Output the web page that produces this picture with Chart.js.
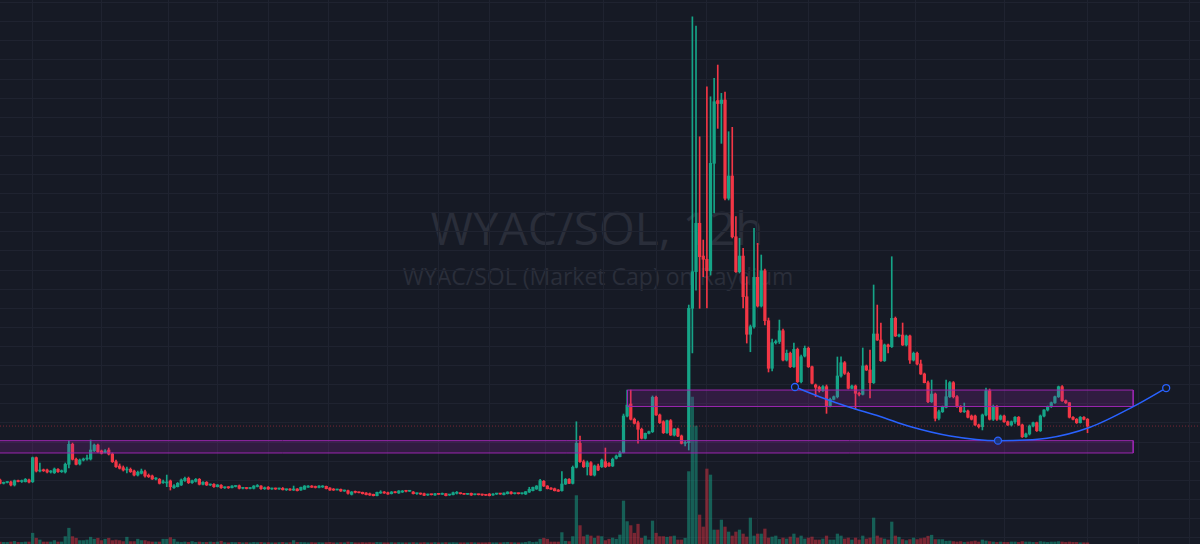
<!DOCTYPE html>
<html><head><meta charset="utf-8">
<script src="https://cdn.jsdelivr.net/npm/chart.js@4.4.1/dist/chart.umd.min.js"></script>
<style>
html,body{margin:0;padding:0;background:#161a25;overflow:hidden;}
#wrap{position:relative;width:1200px;height:544px;}
.wm{position:absolute;width:1200px;text-align:center;color:#2a2e3a;font-family:"Open Sans",sans-serif;white-space:nowrap;line-height:1;}
#wm1{left:-3px;top:204px;font-size:46px;}
#wm2{left:-2px;top:265px;font-size:23px;}
canvas{position:absolute;left:0;top:0;}
</style></head><body>
<div id="wrap">
<div class="wm" id="wm1">WYAC/SOL, 12h</div>
<div class="wm" id="wm2">WYAC/SOL (Market Cap) on Raydium</div>
<canvas id="c" width="1200" height="544"></canvas>
</div>
<script>
// ---- data (12h candles, market cap units; one grid step = 20 units) ----
const opens = [60.2,56.7,57.6,58.1,55.0,59.5,58.6,58.4,60.2,58.4,
83.6,69.6,70.4,70.7,68.6,67.8,71.4,68.9,68.6,76.6,
97.6,81.9,77.0,81.1,82.2,82.2,90.9,96.8,90.6,89.0,
91.6,87.4,79.4,74.9,73.1,70.7,71.4,69.6,65.4,67.2,
68.9,65.1,64.4,61.3,60.9,57.4,57.1,59.2,52.1,53.2,
55.0,59.5,62.0,57.4,58.8,60.9,55.7,57.8,55.0,55.7,
53.2,54.7,52.1,52.6,52.1,53.4,54.2,51.5,51.8,51.3,
51.5,53.4,53.9,51.1,52.6,50.8,51.3,50.8,51.5,50.0,
50.8,49.7,50.8,49.7,50.5,52.6,53.9,53.4,52.4,52.9,
53.6,51.8,50.5,49.7,50.5,48.7,49.0,45.2,47.6,47.3,
47.3,46.6,45.9,45.2,43.8,46.6,47.6,46.9,45.9,47.6,
46.6,47.6,48.7,48.4,47.6,45.9,46.1,45.9,44.5,45.2,
44.5,45.5,45.2,45.9,44.5,44.8,46.3,46.3,45.5,45.2,
46.3,44.8,45.2,45.2,44.5,45.5,44.5,45.5,45.9,44.8,
45.9,47.6,45.9,46.3,45.9,45.5,47.6,49.0,50.8,49.0,
58.8,53.9,51.8,51.1,49.7,49.0,56.0,60.9,56.7,73.5,
98.6,79.4,74.1,78.3,65.4,74.9,74.1,79.4,77.7,74.9,
82.9,84.6,88.8,127.2,139.8,123.8,120.2,113.3,103.9,109.1,
110.8,146.8,128.3,121.2,109.7,122.3,107.3,113.6,106.3,98.6,
99.3,240.0,278.3,329.0,294.7,291.3,279.3,391.8,457.5,454.4,
458.1,355.2,378.5,314.9,278.3,294.7,252.1,212.8,220.7,272.4,
242.4,279.3,227.0,177.2,204.0,205.2,216.5,185.8,192.9,178.8,
197.0,163.1,190.0,198.1,178.8,159.7,157.3,153.7,157.9,137.7,
144.7,147.4,169.1,183.0,171.9,156.2,158.6,151.0,149.9,179.6,
175.4,162.1,213.1,206.8,185.1,201.6,199.8,229.5,211.0,212.0,
201.6,211.0,185.8,192.9,181.7,171.2,162.1,142.2,150.2,124.8,
131.7,136.3,147.4,162.1,147.4,137.0,131.7,132.4,127.2,127.2,
117.8,116.0,128.3,153.7,123.8,137.0,123.8,127.2,121.2,117.8,
121.2,125.9,117.8,105.5,108.4,116.7,120.2,111.8,127.2,133.5,
137.0,141.1,147.4,157.9,143.2,141.1,125.9,123.8,120.2,125.9,
123.8];
const highs = [61.3,58.1,58.6,59.2,60.2,60.2,60.2,61.8,61.3,84.3,
84.3,78.0,71.7,71.7,70.1,72.8,72.2,70.7,78.0,101.4,
98.9,83.2,82.2,83.2,86.4,102.1,97.9,97.9,91.6,92.1,
93.7,88.5,81.1,77.0,74.9,73.8,72.8,70.7,69.6,71.7,
70.7,66.5,65.4,62.8,61.8,60.2,65.4,60.2,55.5,57.6,
61.3,63.3,63.3,60.2,61.8,61.8,58.6,58.6,56.0,56.5,
55.5,55.5,52.9,53.4,54.4,54.4,55.0,52.4,52.4,52.4,
54.4,55.5,54.4,52.9,53.4,51.8,51.8,51.8,52.4,50.8,
51.3,53.9,51.3,52.9,54.4,54.4,54.4,53.9,54.4,54.4,
53.9,52.4,51.3,50.8,50.8,49.7,49.7,48.2,48.7,47.6,
47.6,47.1,46.6,45.5,47.6,49.0,48.2,47.6,48.2,48.2,
49.2,49.2,49.2,49.2,48.2,46.6,46.6,46.6,45.5,45.5,
46.3,46.1,46.6,46.1,45.0,47.6,48.2,46.6,46.1,46.1,
46.6,45.5,45.5,45.5,45.0,46.1,46.1,46.3,46.3,46.9,
48.0,48.0,46.6,46.6,46.6,48.2,52.6,52.9,54.4,60.9,
59.7,54.4,52.4,51.8,50.3,68.9,61.8,61.8,74.9,121.2,
106.3,81.1,80.1,79.6,75.9,77.0,82.2,93.7,78.5,83.2,
86.4,90.6,129.3,154.4,154.4,125.1,122.0,114.6,109.4,111.5,
148.2,148.2,129.3,122.3,123.0,123.5,114.1,114.6,107.3,101.0,
243.4,545.3,535.5,419.6,311.5,472.0,461.5,480.8,494.7,465.1,
466.4,424.9,429.5,335.9,313.3,302.8,273.1,222.5,323.7,308.0,
295.8,281.1,229.8,207.8,206.8,227.7,218.3,196.3,194.2,203.6,
198.4,191.1,200.5,199.5,179.6,160.7,158.6,159.1,159.7,146.1,
148.2,189.0,189.3,184.3,173.3,159.7,159.7,152.3,198.4,180.6,
196.3,264.4,243.4,224.6,202.6,202.6,294.0,230.9,213.1,224.6,
212.0,212.0,194.2,194.2,185.8,172.2,163.9,164.9,151.3,133.5,
137.7,164.9,163.3,163.3,148.7,138.2,140.8,133.5,128.3,128.3,
118.8,129.3,156.5,155.5,138.7,138.2,128.3,128.3,122.0,122.0,
126.7,126.7,118.8,109.4,117.8,120.9,120.9,128.3,134.0,137.7,
141.9,148.2,158.6,159.1,144.0,141.3,126.7,124.6,126.7,126.7,
124.6];
const lows = [56.0,56.0,57.1,53.9,53.9,58.1,57.6,58.1,57.1,57.6,
68.6,68.6,69.1,67.5,67.5,67.0,68.1,68.1,67.5,72.8,
81.1,75.9,75.9,80.1,81.1,81.1,90.0,89.0,87.4,88.5,
86.4,78.5,73.3,71.7,69.6,67.5,68.1,64.4,64.4,66.5,
63.3,62.8,60.7,60.2,56.0,56.5,53.2,49.7,51.3,52.9,
54.4,58.6,56.5,56.5,58.1,55.0,55.0,54.4,54.4,52.4,
52.9,51.3,51.3,51.3,51.8,52.9,50.8,50.8,50.8,50.8,
50.8,52.9,50.3,50.3,50.3,50.3,50.3,50.3,49.7,49.2,
49.2,49.2,48.7,49.2,50.3,52.4,52.4,51.8,51.8,52.4,
50.8,49.2,49.2,49.7,48.2,48.2,45.5,44.5,46.6,46.6,
45.5,44.5,44.0,43.5,43.5,46.1,46.1,45.0,45.5,46.6,
46.1,47.1,47.6,48.2,45.5,45.0,45.0,43.8,44.0,44.5,
44.0,45.0,45.0,43.5,44.0,44.5,45.5,45.5,45.0,45.0,
44.0,44.5,44.5,44.0,44.0,43.5,44.0,45.0,45.2,44.5,
45.5,45.5,45.5,45.5,45.5,45.0,47.1,48.7,50.3,48.7,
53.4,50.8,50.3,48.7,48.2,48.4,55.5,56.3,56.0,72.8,
78.5,73.3,65.4,64.9,64.4,70.1,73.3,73.3,74.3,74.3,
82.2,84.3,88.5,126.2,123.0,118.8,98.9,103.1,103.1,108.4,
109.9,127.7,119.4,108.9,108.9,106.8,106.3,105.7,97.9,95.8,
91.6,193.2,259.1,240.0,273.1,240.3,274.8,339.8,428.4,412.7,
353.4,353.4,313.6,277.5,276.9,240.3,203.6,194.5,219.3,241.3,
241.3,222.5,173.3,174.3,202.6,203.1,184.8,184.8,178.0,178.0,
162.3,161.8,189.0,178.0,160.7,147.4,152.3,152.9,130.0,136.6,
144.0,146.1,168.0,170.7,155.5,155.5,134.5,148.2,149.2,174.8,
146.1,161.2,206.3,184.3,184.3,193.2,198.9,210.4,209.9,201.0,
200.5,182.2,184.8,180.6,170.7,161.8,141.3,141.3,122.0,123.0,
130.9,135.6,146.6,146.1,136.1,130.9,130.9,125.1,123.0,117.3,
114.6,112.6,127.2,123.0,122.5,122.5,123.0,120.4,117.3,116.7,
119.4,117.3,104.7,104.7,107.3,115.7,111.0,111.0,126.2,132.4,
136.1,140.3,146.6,142.4,140.3,125.1,123.0,119.4,119.8,123.0,
109.7];
const closes = [56.7,57.6,58.1,55.0,59.5,58.6,59.5,60.9,58.1,83.6,
69.6,70.4,69.9,68.6,69.1,71.7,68.9,69.6,76.6,97.6,
81.9,76.6,81.1,82.2,82.7,91.6,96.8,89.8,88.2,90.6,
87.4,79.4,74.1,72.5,70.7,71.2,68.9,65.4,68.3,69.6,
64.4,63.7,61.3,62.0,56.7,58.4,58.1,53.2,54.2,56.7,
60.2,62.0,57.4,59.5,60.9,55.7,57.8,55.0,55.5,53.2,
55.0,52.1,52.6,52.1,53.9,53.9,51.5,51.8,51.3,51.8,
53.9,54.2,51.1,52.1,50.8,51.3,50.8,51.5,50.0,50.5,
49.7,50.8,49.0,52.6,53.9,53.9,52.6,52.4,53.9,53.6,
51.1,49.7,49.7,50.5,48.7,49.0,46.3,47.6,47.3,46.9,
45.9,44.8,44.5,43.8,47.3,47.6,46.6,45.5,47.6,46.9,
48.7,48.7,48.4,48.7,45.9,46.1,45.5,44.2,45.2,44.8,
45.9,45.2,46.3,43.8,44.8,46.9,46.9,45.9,45.2,45.9,
44.5,45.2,44.8,44.5,44.2,43.8,45.5,45.9,45.5,46.6,
47.6,45.9,46.3,45.9,46.3,48.0,50.5,52.6,53.9,59.5,
53.9,51.1,50.5,49.0,48.4,56.0,60.9,56.7,73.5,98.6,
79.4,74.1,78.3,65.4,74.9,70.7,81.1,74.1,74.9,81.9,
85.3,88.8,127.2,138.7,123.8,119.6,113.3,103.9,109.1,110.8,
146.8,128.3,120.2,109.7,122.3,107.3,113.6,106.3,98.6,99.3,
240.0,278.3,329.0,294.0,291.3,279.3,391.8,456.3,454.4,458.1,
355.2,378.5,314.9,278.3,294.7,252.1,212.8,220.7,272.4,242.4,
279.3,227.0,177.2,204.0,205.2,216.5,185.8,192.9,178.8,197.0,
163.1,189.3,198.1,178.8,161.5,157.3,153.7,157.9,137.7,144.7,
147.4,169.1,183.0,171.9,156.2,158.6,151.0,149.9,179.6,175.4,
162.1,213.1,206.8,185.1,201.6,199.8,229.5,211.0,212.0,201.6,
211.0,185.8,192.9,181.7,171.2,162.1,142.2,150.2,124.8,131.7,
136.3,147.4,162.1,147.4,137.0,131.7,132.4,125.9,123.8,117.8,
116.0,128.3,153.7,123.8,137.0,123.8,127.2,121.2,117.8,121.2,
125.9,117.8,105.5,108.4,116.7,120.2,111.8,127.2,133.5,137.0,
141.1,147.4,157.9,143.2,141.1,125.9,123.8,120.2,125.9,123.8,
116.7];
const volumes = [1,0.8,0.8,1,1.3,0.8,0.8,1,1,5.4,
2.9,2,1,1,1,1.7,1,1,3.7,7.9,
3.7,2.9,1.7,1.7,2,3.4,2.4,2.9,1.7,2.4,
2.9,1.7,2,1.7,1.2,3.4,1.2,1.2,2.4,1.7,
1.7,1.2,1,1,1,2.4,2.4,3.2,2.4,1,
0.8,1,0.8,1.2,0.8,1,0.8,0.8,1,0.8,
1,1.4,0.7,0.6,0.8,0.7,0.8,0.6,0.7,0.6,
0.8,0.7,0.8,0.6,0.7,0.6,0.6,0.7,0.8,0.6,
0.7,1.7,0.8,0.8,0.7,0.6,0.7,0.6,0.7,0.6,
0.7,0.8,0.6,0.6,0.7,0.6,1,0.8,0.6,0.6,
0.7,0.6,0.7,0.6,0.8,0.7,0.6,0.6,0.7,0.6,
0.7,0.6,0.6,0.6,0.7,0.6,0.6,0.7,0.6,0.6,
0.7,0.6,0.6,0.7,0.6,0.7,0.6,0.6,0.6,0.6,
0.7,0.6,0.6,0.6,0.6,0.7,0.6,0.6,0.6,0.7,
0.8,0.7,0.6,0.6,0.6,0.8,1.2,0.8,1,2.4,
2.9,2.4,1,1,1,5.7,1.4,1.2,3.7,24.2,
9.2,3.7,4.5,4,2.9,4,3.7,1.7,2.4,3,
2.4,4.5,21.5,11.2,9.2,5.4,9.9,2.9,4,2,
11.5,5.4,3.7,3.7,3.4,3.7,4,2,2,2.9,
36.2,73.5,59,14.5,8.5,37.5,34.5,7,7,12,
8.5,6,4,6,7,5,3.5,13,4,5,
5,7.5,3,3.5,4,2.3,3,2.5,3.5,5,
3,4,2.5,3,3.5,2,2,2.5,4,2,
2,5,4,2.5,3,2,3,2,4,2.5,
3,13,4,3,2.5,2,11,4,3.4,2.2,
1.7,2.2,3,2.2,2.7,3,3.9,4.4,2.2,2.2,
2.2,1.4,1.5,1.2,1,1.2,0.8,1,1.2,1.5,
1,2,1.5,1.2,1,0.8,1,0.8,0.8,1,
1,0.8,1.2,1,1,0.8,0.8,1.2,1,0.8,
1,1,1.2,1,0.8,1,0.8,0.8,0.6,0.6,
0.6];
// time grid (candle index) and price grid values
const gridX = [2,16,40,53,67,81,100,114,128,142,159,174,188,202,216,230,244,261,293,307,321];
const gridY = [0,20,40,60,80,100,120,140,160,180,200,220,240,260,280,300,320,340,360,380,400,420,440,460,480,500,520,540,560];
// visible range
const viewTimes = [0, 331.03];
const viewPrices = [-6.8, 562.8];
const volumeMax = 272;
// drawings
const zoneLowTimes = [-5, 312.6], zoneLowPrices = [88.5, 101.4];
const zoneHighTimes = [173.1, 312.6], zoneHighPrices = [137.2, 154.4];
const curveTimes = [219.3, 227.0, 233.7, 242.8, 251.0, 262.1, 275.3, 288.8, 300.7, 312.6, 321.7];
const curvePrices = [157.6, 146.1, 137.2, 126.7, 116.2, 106.3, 101.4, 103.9, 115.4, 137.0, 156.5];
const curveAnchors = [0, 6, 10];

// ---- styles ----
const UP = '#15a487', DOWN = '#f23645';
const UP_VOL = 'rgba(21,164,135,0.5)', DOWN_VOL = 'rgba(242,54,69,0.45)';
const ZONE_FILL = 'rgba(156,39,176,0.2)', ZONE_LINE = '#9c27b0';
const GRID = '#1f2330';
const CURVE = '#2962ff';

const up = closes.map((c, i) => c >= opens[i]);
const candleCol = up.map(u => u ? UP : DOWN);
const volCol = up.map(u => u ? UP_VOL : DOWN_VOL);

function zone(times, prices, order) {
  const [t0, t1] = times, [pb, pt] = prices;
  return [
    {type:'line', data:[{x:t0,y:pt},{x:t1,y:pt}], borderColor:'transparent', borderWidth:0, pointRadius:0, fill:'+1', backgroundColor:ZONE_FILL, order:order},
    {type:'line', data:[{x:t0,y:pb},{x:t1,y:pb}], borderColor:'transparent', borderWidth:0, pointRadius:0, fill:false, order:order},
    {type:'line', data:[{x:t0,y:pb},{x:t0,y:pt},{x:t1,y:pt},{x:t1,y:pb},{x:t0,y:pb}], borderColor:ZONE_LINE, borderWidth:1, pointRadius:0, fill:false, order:order-1}
  ];
}

const lastClose = closes[closes.length - 1];

new Chart(document.getElementById('c'), {
  type: 'bar',
  data: {
    datasets: [
      {type:'bar', yAxisID:'yVol', data: volumes.map((v,i)=>({x:i, y:v})), backgroundColor: volCol, barThickness:2.6, grouped:false, borderWidth:0, order:30},
      {type:'bar', data: lows.map((l,i)=>({x:i, y:[l, highs[i]]})), backgroundColor: candleCol, barThickness:1, grouped:false, borderWidth:0, order:25},
      {type:'bar', data: opens.map((o,i)=>({x:i, y:[o, closes[i]]})), backgroundColor: candleCol, barThickness:2.6, grouped:false, borderWidth:0, minBarLength:1, order:24},
      ...zone(zoneLowTimes, zoneLowPrices, 20),
      ...zone(zoneHighTimes, zoneHighPrices, 20),
      {type:'line', data:[{x:viewTimes[0], y:lastClose},{x:viewTimes[1], y:lastClose}], borderColor:'rgba(242,54,69,0.45)', borderWidth:1, borderDash:[1,2], pointRadius:0, fill:false, order:10},
      {type:'line', data: curveTimes.map((t,i)=>({x:t, y:curvePrices[i]})), borderColor:CURVE, borderWidth:1.5, pointRadius:0, cubicInterpolationMode:'monotone', fill:false, order:5},
      {type:'line', showLine:false, data: curveAnchors.map(k=>({x:curveTimes[k], y:curvePrices[k]})), pointRadius:3.5, pointBorderWidth:1.3, pointBorderColor:CURVE, pointBackgroundColor:['#161a25','#1d3479','#161a25'], order:4}
    ]
  },
  options: {
    responsive:false, animation:false, devicePixelRatio:1, events:[],
    layout:{padding:0, autoPadding:false},
    plugins:{legend:{display:false}, tooltip:{enabled:false}},
    scales:{
      x:{type:'linear', min:viewTimes[0], max:viewTimes[1], offset:false,
         afterBuildTicks:(s)=>{ s.ticks = gridX.map(v=>({value:v})); },
         ticks:{display:false}, border:{display:false},
         grid:{color:GRID, drawTicks:false, lineWidth:1}},
      y:{type:'linear', min:viewPrices[0], max:viewPrices[1],
         afterBuildTicks:(s)=>{ s.ticks = gridY.map(v=>({value:v})); },
         ticks:{display:false}, border:{display:false},
         grid:{color:GRID, drawTicks:false, lineWidth:1}},
      yVol:{type:'linear', min:0, max:volumeMax, display:false}
    }
  }
});
</script>
</body></html>
